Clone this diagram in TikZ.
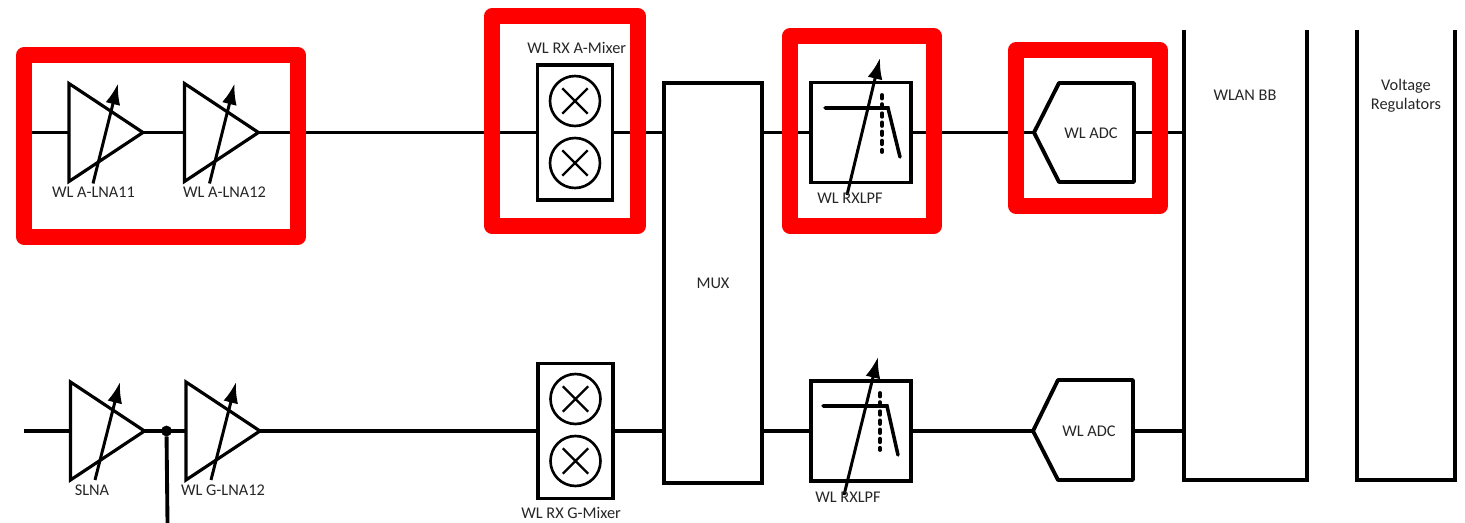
\documentclass[tikz,border=0pt]{standalone}
\usepackage{tikz}
\usepackage{xcolor}
\usepackage{fontspec}
\setmainfont{Carlito}
\usetikzlibrary{arrows.meta,positioning,shapes.geometric,shapes.misc}

\tikzset{
	wire/.style={line width=2.2pt},
	amp/.style={draw, isosceles triangle, isosceles triangle stretches, minimum width=1.96cm, minimum height=1.48cm, inner sep=0pt, outer sep=0pt, line width=1.8pt, anchor=lower side},
	tune/.style={line width=1.7pt, -{Latex[length=0.42cm,width=0.3cm]}},
	box/.style={draw, rectangle, line width=2.2pt, inner sep=0pt, outer sep=0pt},
	mixer/.style={box, minimum width=1.5cm, minimum height=2.7cm},
	xcircle/.style={draw, circle, line width=1.5pt, minimum size=1cm, inner sep=0pt},
	xmark/.style={draw, cross out, line width=1.4pt, minimum size=0.46cm, inner sep=0pt},
	filter/.style={box, minimum width=2cm, minimum height=2cm},
	slope/.style={line width=2pt, line cap=round},
	dots/.style={line width=2.2pt, line cap=round, dash pattern=on 2pt off 3.2pt},
	label/.style={inner sep=0pt, font=\fontsize{9.3}{10.8}\selectfont, text=black!85},
	redbox/.style={draw=red, rectangle, line join=round, line width=9pt, inner sep=0pt},
	open/.style={rectangle, inner sep=0pt}
}

\begin{document}
\begin{tikzpicture}[x=0.02cm, y=-0.02cm]
	\useasboundingbox (0,0) rectangle (1465,523);

	% upper chain
	\coordinate (inA) at (24,132.5);
	\node[amp] (lnaAa) at (69,132.5) {};
	\node[amp] (lnaAb) at (184.5,132.5) {};
	\node[mixer] (mixA) at (575,132.5) {};
	\node[xcircle] (mixAa) at (575,101) {};
	\node[xmark] at (mixAa) {};
	\node[xcircle] (mixAb) at (575,163) {};
	\node[xmark] at (mixAb) {};
	\node[box, minimum width=1.96cm, minimum height=8cm] (mux) at (713,283) {};
	\node[filter] (lpfA) at (861,132.5) {};

	% lower chain
	\coordinate (inG) at (24,431);
	\node[amp] (slna) at (70.5,431) {};
	\node[amp] (lnaGb) at (186,431) {};
	\node[draw, circle, fill=black, minimum size=0.2cm, inner sep=0pt] (dot) at (166.5,431) {};
	\coordinate (down) at (167.5,523);
	\node[mixer] (mixG) at (575.5,431) {};
	\node[xcircle] (mixGa) at (575.5,399) {};
	\node[xmark] at (mixGa) {};
	\node[xcircle] (mixGb) at (575.5,461) {};
	\node[xmark] at (mixGb) {};
	\node[filter] (lpfG) at (861,431) {};

	% converters and the two tall blocks
	\coordinate (adcAa) at (1034,132.5);
	\coordinate (adcGa) at (1033,431);
	\draw[wire, line join=round] (adcAa) -- (1059,83) -- (1134,83) -- (1134,182) -- (1059,182) -- cycle;
	\draw[wire, line join=round] (adcGa) -- (1058,380) -- (1133,380) -- (1133,480) -- (1058,480) -- cycle;
	\node[open, minimum width=2.46cm, minimum height=9cm] (wlan) at (1245.5,255) {};
	\node[open, minimum width=1.96cm, minimum height=9cm] (vreg) at (1406,255) {};
	\draw[wire] (wlan.north west) |- (wlan.south east) -- (wlan.north east);
	\draw[wire] (vreg.north west) |- (vreg.south east) -- (vreg.north east);
	\coordinate (wlanA) at (wlan.west |- inA);
	\coordinate (wlanG) at (wlan.west |- inG);
	\coordinate (adcAb) at (1134,132.5);
	\coordinate (adcGb) at (1133,431);

	% connections
	\draw[wire] (inA) -- (lnaAa.lower side);
	\draw[wire] (lnaAa.apex) -- (lnaAb.lower side);
	\draw[wire] (lnaAb.apex) -- (mixA.west);
	\draw[wire] (mixA.east) -- (mixA -| mux.west);
	\draw[wire] (mux.east |- lpfA) -- (lpfA.west);
	\draw[wire] (lpfA.east) -- (adcAa);
	\draw[wire] (adcAb) -- (wlanA);
	\draw[wire] (inG) -- (slna.lower side);
	\draw[wire] (slna.apex) -- (lnaGb.lower side);
	\draw[wire] (dot) -- (down);
	\draw[wire] (lnaGb.apex) -- (mixG.west);
	\draw[wire] (mixG.east) -- (mixG -| mux.west);
	\draw[wire] (mux.east |- lpfG) -- (lpfG.west);
	\draw[wire] (lpfG.east) -- (adcGa);
	\draw[wire] (adcGb) -- (wlanG);

	% gain arrows
	\draw[tune] ([shift={(24,51)}]lnaAa.lower side) -- ([shift={(49,-49)}]lnaAa.lower side);
	\draw[tune] ([shift={(25,51)}]lnaAb.lower side) -- ([shift={(50,-49)}]lnaAb.lower side);
	\draw[tune] ([shift={(24.5,49)}]slna.lower side) -- ([shift={(49.5,-49)}]slna.lower side);
	\draw[tune] ([shift={(25,49)}]lnaGb.lower side) -- ([shift={(50,-49)}]lnaGb.lower side);

	% filter curves
	\draw[slope] (825,108) -- (888,108) -- (900,157);
	\draw[dots] (882,95) -- (882,152);
	\draw[tune] (847,195) -- (880,58);
	\draw[slope] (823,406) -- (887,406) -- (898,455);
	\draw[dots] (880,393) -- (880,450);
	\draw[tune] (844,495) -- (878,357);

	% texts
	\node[label] (tLnaAa) at (93.5,192) {WL A-LNA11};
	\node[label] (tLnaAb) at (224.5,192) {WL A-LNA12};
	\node[label] (tSlna) at (92,490) {SLNA};
	\node[label] (tLnaGb) at (223,490) {WL G-LNA12};
	\node[label, above=6.5pt of mixA.north, xshift=1pt] (tMixA) {WL RX A-Mixer};
	\node[label, below=5pt of mixG.south, xshift=-2.5pt] (tMixG) {WL RX G-Mixer};
	\node[label] (tMux) at (713,283) {MUX};
	\node[label] (tLpfA) at (850,198) {WL RXLPF};
	\node[label] (tLpfG) at (848,497) {WL RXLPF};
	\node[label] (tAdcA) at (1091,133) {WL ADC};
	\node[label] (tAdcG) at (1089,431) {WL ADC};
	\node[label] (tWlan) at (1245,95) {WLAN BB};
	\node[label, align=center] (tVreg) at (1406,96) {Voltage\\Regulators};

	% highlighted groups
	\node[redbox, minimum width=5.48cm, minimum height=3.64cm] (groupLna) at (161,146) {};
	\node[redbox, minimum width=2.92cm, minimum height=4.2cm] (groupMix) at (565,121) {};
	\node[redbox, minimum width=2.88cm, minimum height=3.8cm] (groupLpf) at (862,131) {};
	\node[redbox, minimum width=2.88cm, minimum height=3.12cm] (groupAdc) at (1088,128) {};
\end{tikzpicture}
\end{document}
